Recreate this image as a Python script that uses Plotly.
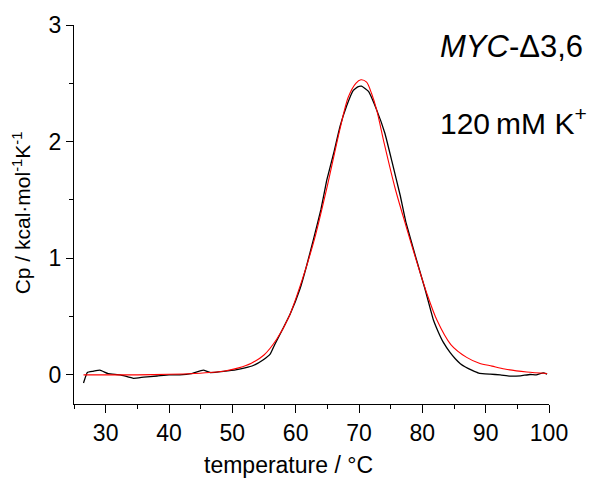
import plotly.graph_objects as go

# Experimental DSC trace (black)
T_exp = [26.5, 27.1, 28.0, 29.1, 30.4, 32.3, 34.4, 36.0, 38.1, 40.0, 41.7, 43.5, 45.4, 46.5,
         48.6, 50.7, 52.0, 53.3, 54.9, 56.0, 56.7, 57.8, 59.1, 60.7, 61.75, 62.8, 64.0, 64.9,
         66.0, 67.0, 68.07, 69.1, 69.8, 70.4, 71.5, 72.8, 74.1, 75.2, 76.5, 77.4, 78.9, 80.4,
         81.75, 82.5, 83.3, 84.4, 85.2, 86.0, 86.8, 87.8, 88.9, 90.7, 92.3, 93.9, 95.5, 97.0,
         98.0, 99.1, 99.7]
Cp_exp = [-0.07, 0.02, 0.03, 0.04, 0.01, 0.0, -0.03, -0.02, -0.01, 0.0, 0.0, 0.01, 0.04, 0.02,
          0.03, 0.045, 0.06, 0.08, 0.13, 0.18, 0.26, 0.376, 0.517, 0.74, 0.94, 1.16, 1.42, 1.667,
          1.90, 2.13, 2.31, 2.44, 2.47, 2.475, 2.43, 2.27, 2.07, 1.83, 1.54, 1.31, 1.02, 0.74,
          0.47, 0.37, 0.28, 0.19, 0.138, 0.096, 0.067, 0.04, 0.015, 0.006, 0.0, -0.011, -0.008, 0.003,
          0.0, 0.017, 0.006]

# Fitted curve (red)
T_fit = [26.5, 30, 35, 40, 44, 47, 49, 51, 53, 55, 57, 59, 61, 63, 65, 67, 68.3, 69.5, 70.3,
         71.2, 72, 72.8, 74, 75.7, 77.4, 79, 80.7, 82.3, 84.5, 87, 89, 91, 93, 96.5, 99.7]
Cp_fit = [0, 0, 0, 0.005, 0.012, 0.022, 0.035, 0.06, 0.10, 0.17, 0.305, 0.505, 0.81, 1.17, 1.62,
          2.11, 2.38, 2.50, 2.53, 2.51, 2.41, 2.27, 1.98, 1.60, 1.28, 0.99, 0.70, 0.47, 0.26, 0.15,
          0.10, 0.075, 0.05, 0.025, 0.012]

x_ticks = [30, 40, 50, 60, 70, 80, 90, 100]
y_ticks = [0, 1, 2, 3]

FONT = "Liberation Sans, Arial, sans-serif"

fig = go.Figure()
fig.add_trace(go.Scatter(x=T_exp, y=Cp_exp, mode="lines",
                         line=dict(color="black", width=1.3, shape="spline", smoothing=0.3),
                         showlegend=False))
fig.add_trace(go.Scatter(x=T_fit, y=Cp_fit, mode="lines",
                         line=dict(color="red", width=1.1, shape="spline", smoothing=0.8),
                         showlegend=False))

fig.update_layout(
    width=594, height=480,
    margin=dict(l=74, r=45, t=18, b=76),
    plot_bgcolor="white", paper_bgcolor="white",
    font=dict(family=FONT, color="black", size=23),
    xaxis=dict(range=[25, 100], tickvals=x_ticks, ticktext=[str(v) for v in x_ticks],
               showgrid=False, zeroline=False, showline=True, linecolor="black", linewidth=1.3,
               ticks="outside", ticklen=8, tickwidth=1.3, tickcolor="black",
               minor=dict(dtick=5, tick0=25, ticks="outside", ticklen=4, tickwidth=1.3, tickcolor="black"),
               tickfont=dict(size=23, family=FONT)),
    yaxis=dict(range=[-0.25, 3], tickvals=y_ticks, ticktext=[str(v) for v in y_ticks],
               showgrid=False, zeroline=False, showline=True, linecolor="black", linewidth=1.3,
               ticks="outside", ticklen=7, tickwidth=1.3, tickcolor="black",
               minor=dict(dtick=0.5, tick0=0, ticks="outside", ticklen=4, tickwidth=1.3, tickcolor="black"),
               tickfont=dict(size=23, family=FONT)),
    annotations=[
        dict(text="temperature / °C", xref="paper", yref="paper", x=0.451, y=-0.161,
             xanchor="center", yanchor="middle", showarrow=False, font=dict(size=23)),
        dict(text="Cp / kcal·mol<sup>-1</sup>K<sup>-1</sup>", xref="paper", yref="paper",
             x=-0.1095, y=0.5056, textangle=-90, xanchor="center", yanchor="middle",
             showarrow=False, font=dict(size=21)),
        dict(text="<i>MYC</i>-Δ3,6", xref="paper", yref="paper", x=0.767, y=0.9425,
             xanchor="left", yanchor="middle", showarrow=False, font=dict(size=31)),
        dict(text="120\u2009mM K<sup>+</sup>", xref="paper", yref="paper", x=0.767, y=0.7467,
             xanchor="left", yanchor="middle", showarrow=False, font=dict(size=30)),
    ],
)

fig.write_html("out.html", config={"displayModeBar": False},
               post_script="document.body.style.margin='0';document.body.style.overflow='hidden';")
